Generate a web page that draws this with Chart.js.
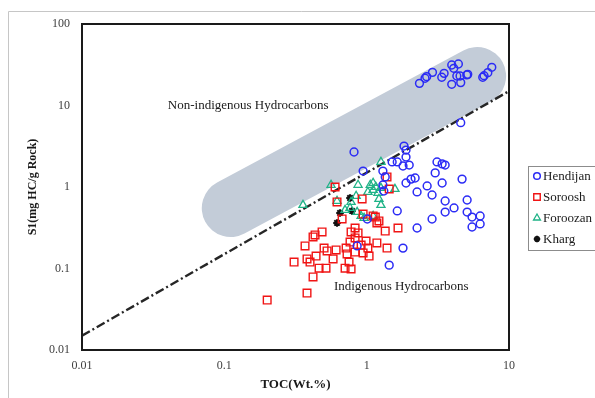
<!DOCTYPE html>
<html>
<head>
<meta charset="utf-8">
<script src="https://cdn.jsdelivr.net/npm/chart.js@4.4.0/dist/chart.umd.min.js"></script>
<style>
  html, body { margin: 0; padding: 0; background: #fff; }
  #wrap { position: relative; width: 595px; height: 398px; }
</style>
</head>
<body>
<div id="wrap"><canvas id="chart"></canvas></div>
<script>
// Values (TOC in wt.%, S1 in mg HC/g rock)
const hendijanToc = [2.35, 2.57, 2.64, 2.90, 3.37, 3.50, 3.96, 4.09, 4.41, 3.96, 4.30, 4.53, 4.58, 5.05, 5.13, 6.54, 6.68, 7.10, 7.57, 4.58,
  0.815, 1.83, 1.89, 0.944, 1.30, 1.35, 1.30, 1.32, 1.51, 1.64, 1.89, 1.80, 1.99, 1.89, 2.05, 2.19, 2.26, 2.66, 3.12, 3.39, 3.56,
  3.03, 4.68, 3.39, 2.88, 3.56, 5.08, 4.11, 3.56, 5.08, 5.50, 6.27, 2.88, 5.50, 6.27, 1.64, 2.26, 1.80, 1.44, 1.01, 0.857];
const hendijanS1 = [18.7, 21.6, 22.6, 25.5, 22.2, 24.8, 31.4, 28.6, 32.3, 18.2, 23.0, 23.0, 19.1, 23.7, 24.1, 22.2, 23.2, 25.3, 29.4, 6.15,
  2.69, 3.18, 2.84, 1.57, 1.57, 1.33, 1.06, 0.893, 2.03, 2.03, 2.33, 1.81, 1.86, 1.12, 1.25, 1.29, 0.869, 1.03, 2.03, 1.92, 1.86,
  1.49, 1.25, 1.12, 0.798, 0.673, 0.693, 0.553, 0.493, 0.493, 0.428, 0.441, 0.405, 0.323, 0.352, 0.508, 0.314, 0.178, 0.110, 0.405, 0.189];

const sorooshToc = [0.200, 0.381, 0.309, 0.369, 0.420, 0.434, 0.486, 0.381, 0.400, 0.441, 0.420, 0.463, 0.518, 0.502, 0.527, 0.581,
  0.610, 0.705, 0.777, 0.752, 0.728, 0.717, 0.764, 0.777, 0.829, 0.870, 0.829, 0.829, 0.914, 0.990, 1.02, 1.04, 0.944, 1.18,
  1.39, 1.35, 1.66, 1.22, 1.15, 0.672, 0.600, 0.619, 0.929, 1.39, 1.44, 0.944, 1.11, 1.18];
const sorooshS1 = [0.041, 0.050, 0.120, 0.189, 0.244, 0.258, 0.281, 0.131, 0.120, 0.142, 0.0787, 0.101, 0.101, 0.178, 0.164, 0.131,
  0.169, 0.101, 0.0986, 0.120, 0.151, 0.178, 0.211, 0.281, 0.314, 0.273, 0.237, 0.159, 0.194, 0.217, 0.178, 0.142, 0.155, 0.206,
  0.178, 0.288, 0.314, 0.383, 0.428, 0.405, 1.00, 0.655, 0.713, 1.33, 0.945, 0.466, 0.441, 0.362];

const foroozanToc = [0.357, 0.562, 0.619, 1.26, 0.870, 1.06, 1.11, 1.02, 1.11, 1.20, 1.26, 1.22, 1.26, 1.58, 0.843, 0.777,
  0.705, 0.764, 0.857, 0.914, 1.11, 0.959, 1.16];
const foroozanS1 = [0.601, 1.06, 0.673, 2.03, 1.06, 1.06, 1.12, 0.869, 0.919, 0.844, 0.972, 0.713, 0.601, 0.945, 0.776, 0.655,
  0.522, 0.553, 0.493, 0.441, 0.441, 0.417, 1.00];

const khargToc = [0.764, 0.650, 0.789, 0.619];
const khargS1 = [0.733, 0.480, 0.508, 0.362];

// dash-dot boundary line S1 = 1.5 x TOC, read at both plot edges
const boundaryToc = [0.01, 10];
const boundaryS1 = [0.015, 15];

// shaded zone: centres of its two rounded ends (TOC, S1)
const zoneEndsToc = [0.111, 5.97];
const zoneEndsS1 = [0.552, 23.0];

const xTicks = [0.01, 0.1, 1, 10];
const xTickLabels = ['0.01', '0.1', '1', '10'];
const yTicks = [0.01, 0.1, 1, 10, 100];
const yTickLabels = ['0.01', '0.1', '1', '10', '100'];

const notes = [
  { text: 'Non-indigenous Hydrocarbons', toc: 0.147, s1: 10 },
  { text: 'Indigenous Hydrocarbons', toc: 1.75, s1: 0.0593 }
];

const SERIF = '"Liberation Serif", "Times New Roman", serif';

function pairs(xs, ys) {
    return xs.map((x, i) => ({ x: x, y: ys[i] }));
}

function markerSet(label, xs, ys, color, style, radius, width) {
    return {
        label: label,
        data: pairs(xs, ys),
        pointStyle: style,
        pointRadius: radius,
        pointHoverRadius: radius,
        borderColor: color,
        backgroundColor: 'rgba(0,0,0,0)',
        pointBorderWidth: width,
        borderWidth: width,
        showLine: false,
        order: 1
    };
}

const datasets = [
    markerSet('Hendijan', hendijanToc, hendijanS1, '#2b2bf5', 'circle', 3.9, 1.5),
    markerSet('Soroosh', sorooshToc, sorooshS1, '#f01414', 'rect', 5.4, 1.4),
    markerSet('Foroozan', foroozanToc, foroozanS1, '#1fb387', 'triangle', 4.7, 1.3),
    markerSet('Kharg', khargToc, khargS1, '#111111', 'star', 3.8, 2),
    {
        label: 'boundary',
        data: pairs(boundaryToc, boundaryS1),
        showLine: true,
        borderColor: '#262626',
        borderWidth: 2.4,
        borderDash: [9, 3, 2, 3],
        pointRadius: 0,
        order: 5
    }
];

// grey frame around the whole chart object
const outerFrame = {
    id: 'outerFrame',
    beforeDraw(chart) {
        const ctx = chart.ctx;
        ctx.save();
        ctx.strokeStyle = '#c6c6c6';
        ctx.lineWidth = 1;
        ctx.beginPath();
        ctx.moveTo(8.5, chart.height);
        ctx.lineTo(8.5, 11.5);
        ctx.lineTo(chart.width, 11.5);
        ctx.stroke();
        ctx.restore();
    }
};

// shaded capsule behind the points
const zone = {
    id: 'zone',
    beforeDatasetsDraw(chart) {
        const { ctx, chartArea, scales } = chart;
        const x1 = scales.x.getPixelForValue(zoneEndsToc[0]);
        const y1 = scales.y.getPixelForValue(zoneEndsS1[0]);
        const x2 = scales.x.getPixelForValue(zoneEndsToc[1]);
        const y2 = scales.y.getPixelForValue(zoneEndsS1[1]);
        ctx.save();
        ctx.beginPath();
        ctx.rect(chartArea.left, chartArea.top, chartArea.width, chartArea.height);
        ctx.clip();
        ctx.strokeStyle = '#c3ccd8';
        ctx.lineWidth = 58;
        ctx.lineCap = 'round';
        ctx.beginPath();
        ctx.moveTo(x1, y1);
        ctx.lineTo(x2, y2);
        ctx.stroke();

        ctx.fillStyle = '#1a1a1a';
        ctx.font = '13px ' + SERIF;
        ctx.textAlign = 'center';
        ctx.textBaseline = 'middle';
        notes.forEach(n => {
            ctx.fillText(n.text, scales.x.getPixelForValue(n.toc), scales.y.getPixelForValue(n.s1));
        });
        ctx.restore();
    }
};

// black box round the plot area and the boxed legend on the right
const frameAndLegend = {
    id: 'frameAndLegend',
    afterDraw(chart) {
        const { ctx, chartArea } = chart;
        ctx.save();
        ctx.strokeStyle = '#1a1a1a';
        ctx.lineWidth = 2;
        ctx.strokeRect(chartArea.left, chartArea.top, chartArea.width, chartArea.height);

        ctx.strokeStyle = '#8c8c8c';
        ctx.lineWidth = 1;
        ctx.strokeRect(528.5, 166.5, 90, 84);

        ctx.font = '13px ' + SERIF;
        ctx.textAlign = 'left';
        ctx.textBaseline = 'middle';
        chart.data.datasets.slice(0, 4).forEach((ds, i) => {
            const y = 176 + i * 21;
            ctx.strokeStyle = ds.borderColor;
            ctx.fillStyle = 'rgba(0,0,0,0)';
            ctx.lineWidth = ds.borderWidth;
            Chart.helpers.drawPoint(ctx, {
                pointStyle: ds.pointStyle,
                radius: ds.pointRadius * 0.85,
                rotation: 0,
                borderWidth: ds.borderWidth
            }, 537, y);
            ctx.fillStyle = '#1a1a1a';
            ctx.fillText(ds.label, 543, y + 1);
        });
        ctx.restore();
    }
};

new Chart(document.getElementById('chart'), {
    type: 'scatter',
    data: { datasets: datasets },
    options: {
        responsive: true,
        maintainAspectRatio: false,
        animation: false,
        layout: { padding: { left: 0, top: 24, right: 86, bottom: 0 } },
        plugins: {
            legend: { display: false },
            tooltip: { enabled: false }
        },
        scales: {
            x: {
                type: 'logarithmic',
                min: 0.01,
                max: 10,
                grid: { display: false, drawTicks: false },
                border: { display: false },
                afterBuildTicks: s => { s.ticks = xTicks.map(v => ({ value: v })); },
                afterFit: s => { s.height = 48; },
                ticks: {
                    padding: 9,
                    color: '#404040',
                    autoSkip: false,
                    maxRotation: 0,
                    font: { family: SERIF, size: 12, weight: 'normal' },
                    callback: v => xTickLabels[xTicks.indexOf(v)]
                },
                title: {
                    display: true,
                    text: 'TOC(Wt.%)',
                    color: '#1a1a1a',
                    font: { family: SERIF, size: 13, weight: 'bold' },
                    padding: { top: 0, bottom: 6 }
                }
            },
            y: {
                type: 'logarithmic',
                min: 0.01,
                max: 100,
                grid: { display: false, drawTicks: false },
                border: { display: false },
                afterBuildTicks: s => { s.ticks = yTicks.map(v => ({ value: v })); },
                afterFit: s => { s.width = 82; },
                ticks: {
                    padding: 12,
                    color: '#404040',
                    autoSkip: false,
                    font: { family: SERIF, size: 12, weight: 'normal' },
                    callback: v => yTickLabels[yTicks.indexOf(v)]
                },
                title: {
                    display: true,
                    text: 'S1(mg HC/g Rock)',
                    color: '#1a1a1a',
                    font: { family: SERIF, size: 12, weight: 'bold' },
                    padding: { top: 26, bottom: 0 }
                }
            }
        }
    },
    plugins: [outerFrame, zone, frameAndLegend]
});
</script>
</body>
</html>
